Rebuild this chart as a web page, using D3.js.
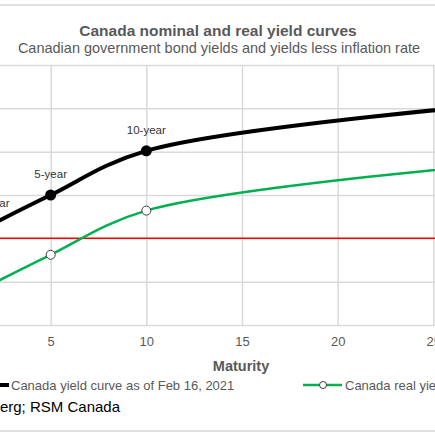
<!DOCTYPE html>
<html>
<head>
<meta charset="utf-8">
<script src="https://d3js.org/d3.v7.min.js"></script>
<style>
  body { margin: 0; background: #fff; }
  #my_dataviz svg { display: block; font-family: "Liberation Sans", Arial, sans-serif; }
</style>
</head>
<body>
<div id="my_dataviz"></div>
<script>
// data (percent)
const maturities = [2, 5, 10, 30];
const maturityLabels = ["2-year", "5-year", "10-year", "30-year"];
const nominalYield = [0.17, 0.50, 1.01, 1.58];
const realYield = [-0.52, -0.19, 0.32, 0.89];
const xTicks = [0, 5, 10, 15, 20, 25, 30];
const yTicks = [-1, -0.5, 0, 0.5, 1, 1.5, 2];
const seriesNames = ["Canada yield curve as of Feb 16, 2021", "Canada real yield curve"];

// the visible window is a crop of a wider chart, so the plot runs past the edges
const width = 435, height = 435;
const plot = {left: -45, right: 529, top: 65, bottom: 325};

const svg = d3.select("#my_dataviz")
  .append("svg")
    .attr("width", width)
    .attr("height", height);

// chart area border (only top and bottom show)
svg.append("rect")
  .attr("x", -20).attr("y", 5)
  .attr("width", width + 40).attr("height", 426)
  .attr("fill", "none")
  .attr("stroke", "#d9d9d9")
  .attr("stroke-width", 1.5);

// titles
svg.append("text")
  .attr("x", 218).attr("y", 36)
  .attr("text-anchor", "middle")
  .style("font-size", "15.5px")
  .style("font-weight", "bold")
  .style("fill", "#595959")
  .text("Canada nominal and real yield curves");

svg.append("text")
  .attr("x", 219).attr("y", 53)
  .attr("text-anchor", "middle")
  .style("font-size", "14.5px")
  .style("fill", "#595959")
  .text("Canadian government bond yields and yields less inflation rate");

// X axis
const x = d3.scaleLinear()
  .domain([0, 30])
  .range([plot.left, plot.right]);

// Y axis
const y = d3.scaleLinear()
  .domain([-1, 2])
  .range([plot.bottom, plot.top]);

// gridlines
svg.append("g")
  .attr("transform", `translate(0, ${plot.bottom})`)
  .call(d3.axisBottom(x).tickValues(xTicks).tickSize(-(plot.bottom - plot.top)).tickFormat(""))
  .call(g => g.select(".domain").remove())
  .call(g => g.selectAll("line").attr("stroke", "#d9d9d9").attr("stroke-width", 1.5));

svg.append("g")
  .attr("transform", `translate(${plot.left}, 0)`)
  .call(d3.axisLeft(y).tickValues(yTicks).tickSize(-(plot.right - plot.left)).tickFormat(""))
  .call(g => g.select(".domain").remove())
  .call(g => g.selectAll("line").attr("stroke", "#d9d9d9").attr("stroke-width", 1.5));

// tick labels
svg.append("g")
  .attr("transform", `translate(0, ${plot.bottom})`)
  .call(d3.axisBottom(x).tickValues(xTicks).tickSize(0).tickPadding(12))
  .call(g => g.select(".domain").remove())
  .call(g => g.selectAll("text")
    .style("font-family", "Liberation Sans, Arial, sans-serif")
    .style("font-size", "13px")
    .style("fill", "#595959"));

svg.append("g")
  .attr("transform", `translate(${plot.left}, 0)`)
  .call(d3.axisLeft(y).tickValues(yTicks).tickSize(0).tickPadding(8).tickFormat(d3.format(".1f")))
  .call(g => g.select(".domain").remove())
  .call(g => g.selectAll("text")
    .style("font-size", "13px")
    .style("fill", "#595959"));

svg.append("text")
  .attr("x", 241).attr("y", 371)
  .attr("text-anchor", "middle")
  .style("font-size", "14.5px")
  .style("font-weight", "bold")
  .style("fill", "#595959")
  .text("Maturity");

// zero line
svg.append("line")
  .attr("x1", x(0)).attr("x2", x(30))
  .attr("y1", y(0)).attr("y2", y(0))
  .attr("stroke", "#ff0000")
  .attr("stroke-width", 1.5);

const line = d3.line()
  .x(d => x(d[0]))
  .y(d => y(d[1]))
  .curve(d3.curveCatmullRom.alpha(0.5));

const nominal = maturities.map((m, i) => [m, nominalYield[i]]);
const real = maturities.map((m, i) => [m, realYield[i]]);

// real yield curve
svg.append("path")
  .datum(real)
  .attr("d", line)
  .attr("fill", "none")
  .attr("stroke", "#00b050")
  .attr("stroke-width", 2.5);

svg.append("g")
  .selectAll("circle")
  .data(real)
  .enter()
  .append("circle")
    .attr("cx", d => x(d[0]))
    .attr("cy", d => y(d[1]))
    .attr("r", 4.5)
    .attr("fill", "#fff")
    .attr("stroke", "#404040")
    .attr("stroke-width", 1);

// nominal yield curve
svg.append("path")
  .datum(nominal)
  .attr("d", line)
  .attr("fill", "none")
  .attr("stroke", "#000")
  .attr("stroke-width", 4);

svg.append("g")
  .selectAll("circle")
  .data(nominal)
  .enter()
  .append("circle")
    .attr("cx", d => x(d[0]))
    .attr("cy", d => y(d[1]))
    .attr("r", 5.5)
    .attr("fill", "#000");

svg.append("g")
  .selectAll("text")
  .data(nominal)
  .enter()
  .append("text")
    .attr("x", d => x(d[0]))
    .attr("y", d => y(d[1]) - 17)
    .attr("text-anchor", "middle")
    .style("font-size", "11.5px")
    .style("fill", "#333")
    .text((d, i) => maturityLabels[i]);

// legend
const legY = 385;
svg.append("line")
  .attr("x1", -30).attr("x2", 9)
  .attr("y1", legY).attr("y2", legY)
  .attr("stroke", "#000").attr("stroke-width", 4);
svg.append("circle")
  .attr("cx", -11).attr("cy", legY).attr("r", 4).attr("fill", "#000");
svg.append("text")
  .attr("x", 11).attr("y", legY + 4.5)
  .style("font-size", "13px")
  .style("fill", "#595959")
  .text(seriesNames[0]);

svg.append("line")
  .attr("x1", 303).attr("x2", 342)
  .attr("y1", legY).attr("y2", legY)
  .attr("stroke", "#00b050").attr("stroke-width", 2.5);
svg.append("circle")
  .attr("cx", 323).attr("cy", legY).attr("r", 3.5)
  .attr("fill", "#fff").attr("stroke", "#404040").attr("stroke-width", 1);
svg.append("text")
  .attr("x", 345).attr("y", legY + 4.5)
  .style("font-size", "13px")
  .style("fill", "#595959")
  .text(seriesNames[1]);

// source
svg.append("text")
  .attr("x", 120).attr("y", 412)
  .attr("text-anchor", "end")
  .style("font-size", "15px")
  .style("fill", "#000")
  .text("Source: Bloomberg; RSM Canada");
</script>
</body>
</html>
